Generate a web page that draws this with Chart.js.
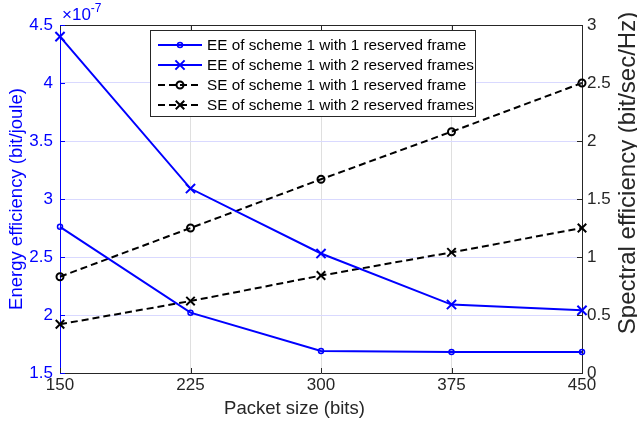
<!DOCTYPE html>
<html>
<head>
<meta charset="utf-8">
<script src="https://cdn.jsdelivr.net/npm/chart.js@4.4.1/dist/chart.umd.min.js"></script>
<style>
  html, body { margin: 0; padding: 0; background: #ffffff; }
  #wrap { width: 637px; height: 423px; position: relative; }
</style>
</head>
<body>
<div id="wrap"><canvas id="c" width="637" height="423"></canvas></div>
<script>
// ---- data ----
const packetSizes = [150, 225, 300, 375, 450];             // bits
const eeOneFrame  = [2.76, 2.02, 1.69, 1.68, 1.68];         // ×1e-7 bit/joule
const eeTwoFrames = [4.40, 3.09, 2.53, 2.09, 2.04];         // ×1e-7 bit/joule
const seOneFrame  = [0.83, 1.25, 1.67, 2.08, 2.50];         // bit/sec/Hz
const seTwoFrames = [0.42, 0.62, 0.84, 1.04, 1.25];         // bit/sec/Hz
const seriesLabels = [
  'EE of scheme 1 with 1 reserved frame',
  'EE of scheme 1 with 2 reserved frames',
  'SE of scheme 1 with 1 reserved frame',
  'SE of scheme 1 with 2 reserved frames'
];
const xRange = [150, 450], xStep = 75;
const eeRange = [1.5, 4.5], eeStep = 0.5;
const seRange = [0, 3], seStep = 0.5;
const eeExponent = '-7';
const titles = {
  x: 'Packet size (bits)',
  left: 'Energy efficiency (bit/joule)',
  right: 'Spectral efficiency (bit/sec/Hz)'
};

const BLUE = '#0000ff';
const DARK = '#262626';
const FONT = '"Liberation Sans", Arial, Helvetica, sans-serif';

function pts(ys) { return packetSizes.map((x, i) => ({ x: x, y: ys[i] })); }
function fmt(v) { return String(+Number(v).toFixed(2)); }

const datasets = [
  { label: seriesLabels[0], data: pts(eeOneFrame), yAxisID: 'yL',
    borderColor: BLUE, borderWidth: 2, pointStyle: 'circle', pointRadius: 2.5,
    pointBorderWidth: 1.5, pointBorderColor: BLUE, pointBackgroundColor: 'rgba(0,0,0,0)' },
  { label: seriesLabels[1], data: pts(eeTwoFrames), yAxisID: 'yL',
    borderColor: BLUE, borderWidth: 2, pointStyle: 'crossRot', pointRadius: 6.5,
    pointBorderWidth: 2, pointBorderColor: BLUE, pointBackgroundColor: 'rgba(0,0,0,0)' },
  { label: seriesLabels[2], data: pts(seOneFrame), yAxisID: 'yR',
    borderColor: '#000000', borderWidth: 2, borderDash: [7, 4], pointStyle: 'circle', pointRadius: 3.5,
    pointBorderWidth: 2, pointBorderColor: '#000000', pointBackgroundColor: 'rgba(0,0,0,0)' },
  { label: seriesLabels[3], data: pts(seTwoFrames), yAxisID: 'yR',
    borderColor: '#000000', borderWidth: 2, borderDash: [7, 4], pointStyle: 'crossRot', pointRadius: 6,
    pointBorderWidth: 2, pointBorderColor: '#000000', pointBackgroundColor: 'rgba(0,0,0,0)' }
];
datasets.forEach(d => { d.fill = false; d.tension = 0; d.clip = false; d.showLine = true; });

function drawMarker(ctx, style, x, y, r, color, lw) {
  ctx.save();
  ctx.setLineDash([]);
  ctx.strokeStyle = color; ctx.lineWidth = lw;
  ctx.beginPath();
  if (style === 'circle') {
    ctx.arc(x, y, r, 0, Math.PI * 2);
  } else {
    const o = Math.cos(Math.PI / 4) * r;
    ctx.moveTo(x - o, y - o); ctx.lineTo(x + o, y + o);
    ctx.moveTo(x - o, y + o); ctx.lineTo(x + o, y - o);
  }
  ctx.stroke();
  ctx.restore();
}

const framePlugin = {
  id: 'frame',
  afterDraw(chart) {
    const ctx = chart.ctx, a = chart.chartArea;
    const sx = chart.scales.x, sl = chart.scales.yL, sr = chart.scales.yR;
    ctx.save();
    // top box line
    ctx.strokeStyle = DARK; ctx.lineWidth = 1;
    ctx.beginPath(); ctx.moveTo(a.left, a.top + 0.5); ctx.lineTo(a.right, a.top + 0.5); ctx.stroke();
    // inward tick marks
    const tl = 5;
    sx.ticks.forEach(t => {
      const px = Math.round(sx.getPixelForValue(t.value)) + 0.5;
      ctx.strokeStyle = DARK;
      ctx.beginPath(); ctx.moveTo(px, a.bottom); ctx.lineTo(px, a.bottom - tl); ctx.stroke();
      ctx.beginPath(); ctx.moveTo(px, a.top); ctx.lineTo(px, a.top + tl); ctx.stroke();
    });
    sl.ticks.forEach(t => {
      const py = Math.round(sl.getPixelForValue(t.value)) + 0.5;
      ctx.strokeStyle = BLUE;
      ctx.beginPath(); ctx.moveTo(a.left, py); ctx.lineTo(a.left + tl, py); ctx.stroke();
    });
    sr.ticks.forEach(t => {
      const py = Math.round(sr.getPixelForValue(t.value)) + 0.5;
      ctx.strokeStyle = DARK;
      ctx.beginPath(); ctx.moveTo(a.right, py); ctx.lineTo(a.right - tl, py); ctx.stroke();
    });

    // exponent label
    ctx.fillStyle = BLUE;
    ctx.textBaseline = 'alphabetic'; ctx.textAlign = 'left';
    ctx.font = '17px ' + FONT;
    ctx.fillText('\u00d710', 62, 20);
    const w = ctx.measureText('\u00d710').width;
    ctx.font = '12px ' + FONT;
    ctx.fillText(eeExponent, 62 + w, 12);

    // axis titles
    ctx.font = '18.5px ' + FONT;
    ctx.textAlign = 'center'; ctx.textBaseline = 'middle';
    ctx.fillStyle = DARK;
    ctx.fillText(titles.x, 294.5, 409);
    ctx.save();
    ctx.translate(17, 199); ctx.rotate(-Math.PI / 2);
    ctx.fillStyle = BLUE; ctx.fillText(titles.left, 0, 0);
    ctx.restore();
    ctx.save();
    ctx.font = '24px ' + FONT;
    ctx.textBaseline = 'alphabetic';
    ctx.translate(635, 173); ctx.rotate(-Math.PI / 2);
    ctx.fillStyle = DARK; ctx.fillText(titles.right, 0, 0);
    ctx.restore();

    // legend
    const lx = 150.5, ly = 30.5, lw = 325, lh = 86;
    ctx.fillStyle = '#ffffff'; ctx.fillRect(lx, ly, lw, lh);
    ctx.strokeStyle = DARK; ctx.lineWidth = 1; ctx.strokeRect(lx, ly, lw, lh);
    const rows = [45, 65, 85, 105];
    ctx.font = '15.3px ' + FONT; ctx.textAlign = 'left'; ctx.textBaseline = 'middle';
    chart.data.datasets.forEach((d, i) => {
      const y = rows[i];
      ctx.save();
      ctx.strokeStyle = d.borderColor; ctx.lineWidth = d.borderWidth;
      ctx.setLineDash(d.borderDash || []);
      ctx.beginPath(); ctx.moveTo(158, y); ctx.lineTo(202, y); ctx.stroke();
      ctx.restore();
      drawMarker(ctx, d.pointStyle, 180, y, d.pointRadius, d.pointBorderColor, d.pointBorderWidth);
      ctx.fillStyle = '#000000';
      ctx.fillText(d.label, 207, y + 1);
    });
    ctx.restore();
  }
};

new Chart(document.getElementById('c'), {
  type: 'line',
  data: { datasets: datasets },
  options: {
    responsive: false,
    animation: false,
    devicePixelRatio: 1,
    layout: { padding: { top: 25, left: 0, right: 0, bottom: 0 } },
    plugins: { legend: { display: false }, tooltip: { enabled: false }, title: { display: false } },
    scales: {
      x: {
        type: 'linear', position: 'bottom', min: xRange[0], max: xRange[1],
        ticks: { stepSize: xStep, color: DARK, font: { size: 17, family: FONT }, padding: 2, maxRotation: 0, callback: fmt },
        grid: { color: '#dfdfdf', lineWidth: 1, drawTicks: false },
        border: { color: DARK, width: 1 },
        afterFit(s) { s.height = 50; }
      },
      yL: {
        type: 'linear', position: 'left', min: eeRange[0], max: eeRange[1],
        ticks: { stepSize: eeStep, color: BLUE, font: { size: 17, family: FONT }, padding: 7, callback: fmt },
        grid: { color: '#d9d9ff', lineWidth: 1, drawTicks: false },
        border: { color: BLUE, width: 1 },
        afterFit(s) { s.width = 60; }
      },
      yR: {
        type: 'linear', position: 'right', min: seRange[0], max: seRange[1],
        ticks: { stepSize: seStep, color: DARK, font: { size: 17, family: FONT }, padding: 5, callback: fmt },
        grid: { drawOnChartArea: false, drawTicks: false },
        border: { color: DARK, width: 1 },
        afterFit(s) { s.width = 55; }
      }
    }
  },
  plugins: [framePlugin]
});
</script>
</body>
</html>
